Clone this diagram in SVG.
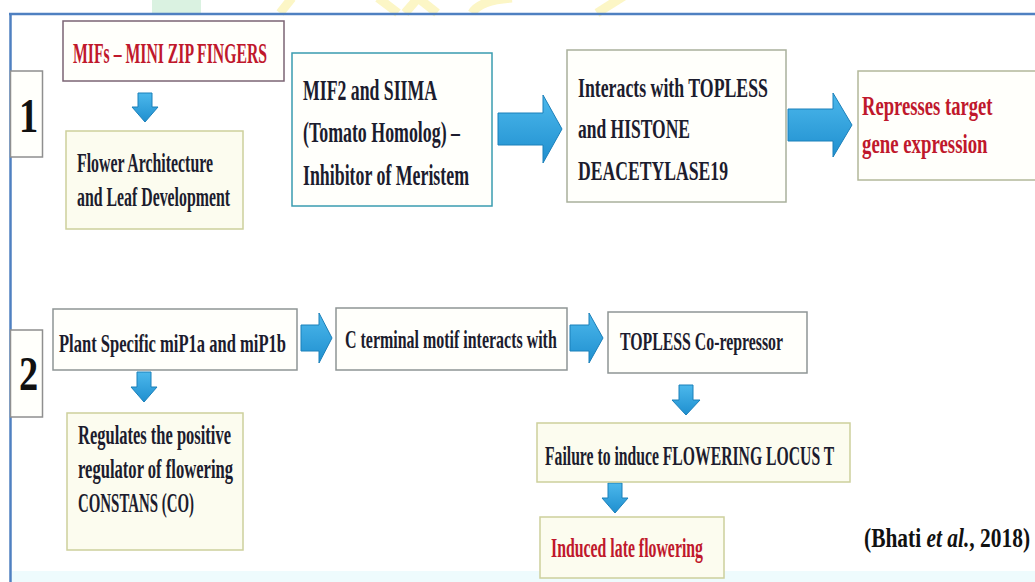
<svg xmlns="http://www.w3.org/2000/svg" width="1035" height="582" viewBox="0 0 1035 582">
<defs>
<linearGradient id="ag" x1="0" y1="0" x2="0" y2="1">
<stop offset="0" stop-color="#4cb8ec"/>
<stop offset="1" stop-color="#1f8fcf"/>
</linearGradient>
</defs>
<style>
.t{font-family:"Liberation Serif","DejaVu Serif","Times New Roman",serif;font-weight:bold;fill:#1c1c2e}
.s25{font-size:25px}
.s26{font-size:26px}
.s27{font-size:27px}
.s28{font-size:28px}
.s29{font-size:29px}
.r{fill:#c0182c}
.box{fill:#fffffb;stroke-width:1.5}
.yb{fill:#fcfcef;stroke:#cdd09c}
.gb{stroke:#8e9595}
.num{font-family:"Liberation Serif","DejaVu Serif","Times New Roman",serif;font-weight:bold;fill:#111;font-size:48px}
.arr{fill:url(#ag);stroke:#1b80ba;stroke-width:1}
</style>
<rect x="0" y="0" width="1035" height="582" fill="#ffffff"/>
<g id="watermark" opacity="0.9">
<rect x="152" y="0" width="49" height="13" fill="#d6f1de"/>
<g stroke="#fcf6c0" stroke-width="9" fill="none">
<line x1="280" y1="13" x2="292" y2="-2"/>
<line x1="378" y1="-2" x2="398" y2="13"/>
<path d="M405,13 L418,-2 L437,13"/>
<path d="M472,13 Q480,0 512,-2"/>
<line x1="597" y1="13" x2="624" y2="-4"/>
</g>
</g>
<g id="frame">
<line x1="9" y1="14" x2="1035" y2="14" stroke="#4f80c1" stroke-width="2.5"/>
<line x1="10.5" y1="13" x2="10.5" y2="582" stroke="#4f80c1" stroke-width="2.5"/>
<rect x="12" y="571" width="1023" height="11" fill="#eefbfd"/>
</g>
<g id="connectors">
<path class="arr" d="M138,93 H152 V107 H158 L145,122 L132,107 H138 Z"/>
<path class="arr" d="M498,113 H543 V95 L562,129 L543,163 V145 H498 Z"/>
<path class="arr" d="M788,109 H833 V93 L852,125 L833,157 V141 H788 Z"/>
<path class="arr" d="M137,372 H151 V387 H157 L144,402 L131,387 H137 Z"/>
<path class="arr" d="M301,325 H319 V313 L332,338 L319,363 V351 H301 Z"/>
<path class="arr" d="M570,325 H589 V313 L603,338 L589,363 V351 H570 Z"/>
<path class="arr" d="M679,385 H693 V400 H700 L686,415 L672,400 H679 Z"/>
<path class="arr" d="M608,483 H622 V498 H628 L615,513 L602,498 H608 Z"/>
</g>
<g id="n-step1">
<rect class="box" x="10.5" y="71" width="32" height="86" stroke="#8f8f8f"/>
<text class="num" x="0" y="0" transform="translate(19,132) scale(0.8,1)">1</text>
</g>
<g id="n-mifs">
<rect class="box" x="63" y="21" width="221" height="60" stroke="#7b6474" fill="#fffdfd"/>
<text class="t r s29" x="73" y="63" textLength="194" lengthAdjust="spacingAndGlyphs">MIFs – MINI ZIP FINGERS</text>
</g>
<g id="n-flower">
<rect class="box yb" x="66" y="131" width="177" height="98"/>
<text class="t s27" x="77" y="172" textLength="136" lengthAdjust="spacingAndGlyphs">Flower Architecture</text>
<text class="t s27" x="77" y="206" textLength="153" lengthAdjust="spacingAndGlyphs">and Leaf Development</text>
</g>
<g id="n-mif2">
<rect class="box" x="292" y="53" width="200" height="153" stroke="#3a9cb0" stroke-width="3"/>
<text class="t s29" x="303" y="100" textLength="134" lengthAdjust="spacingAndGlyphs">MIF2 and SIIMA</text>
<text class="t s29" x="303" y="142" textLength="157" lengthAdjust="spacingAndGlyphs">(Tomato Homolog) –</text>
<text class="t s29" x="303" y="185" textLength="166" lengthAdjust="spacingAndGlyphs">Inhibitor of Meristem</text>
</g>
<g id="n-interacts">
<rect class="box" x="567" y="50" width="219" height="152" stroke="#a9b09c"/>
<text class="t s28" x="578" y="97" textLength="190" lengthAdjust="spacingAndGlyphs">Interacts with TOPLESS</text>
<text class="t s28" x="578" y="138" textLength="112" lengthAdjust="spacingAndGlyphs">and HISTONE</text>
<text class="t s28" x="578" y="180" textLength="150" lengthAdjust="spacingAndGlyphs">DEACETYLASE19</text>
</g>
<g id="n-represses">
<rect class="box" x="858" y="71" width="190" height="109" stroke="#b3b89a"/>
<text class="t r s28" x="0" y="0" transform="translate(862,115) scale(0.666,1)">Represses target</text>
<text class="t r s28" x="0" y="0" transform="translate(862,153) scale(0.672,1)">gene expression</text>
</g>
<g id="n-step2">
<rect class="box" x="10.5" y="330" width="32" height="87" stroke="#8f8f8f"/>
<text class="num" x="0" y="0" transform="translate(19,390) scale(0.8,1)">2</text>
</g>
<g id="n-plant">
<rect class="box gb" x="53" y="309" width="244" height="61"/>
<text class="t s25" x="0" y="0" transform="translate(59,352) scale(0.662,1)">Plant Specific miP1a and miP1b</text>
</g>
<g id="n-regulates">
<rect class="box yb" x="67" y="413" width="176" height="137"/>
<text class="t s27" x="78" y="444" textLength="153" lengthAdjust="spacingAndGlyphs">Regulates the positive</text>
<text class="t s27" x="78" y="478" textLength="155" lengthAdjust="spacingAndGlyphs">regulator of flowering</text>
<text class="t s27" x="78" y="512" textLength="116" lengthAdjust="spacingAndGlyphs">CONSTANS (CO)</text>
</g>
<g id="n-cterminal">
<rect class="box gb" x="336" y="308" width="231" height="62"/>
<text class="t s26" x="0" y="0" transform="translate(345,348) scale(0.614,1)">C terminal motif interacts with</text>
</g>
<g id="n-topless">
<rect class="box gb" x="608" y="312" width="199" height="61"/>
<text class="t s26" x="620" y="350" textLength="163" lengthAdjust="spacingAndGlyphs">TOPLESS Co-repressor</text>
</g>
<g id="n-failure">
<rect class="box yb" x="537" y="423" width="313" height="59"/>
<text class="t s27" x="0" y="0" transform="translate(545,465) scale(0.581,1)">Failure to induce FLOWERING LOCUS T</text>
</g>
<g id="n-induced">
<rect class="box yb" x="540" y="517" width="184" height="61" stroke="#c9c39e"/>
<text class="t r s27" x="551" y="557" textLength="152" lengthAdjust="spacingAndGlyphs">Induced late flowering</text>
</g>
<g id="citation">
<text class="t s27" x="0" y="0" transform="translate(864,547) scale(0.794,1)" style="fill:#111">(Bhati <tspan font-style="italic">et al.</tspan>, 2018)</text>
</g>
</svg>
